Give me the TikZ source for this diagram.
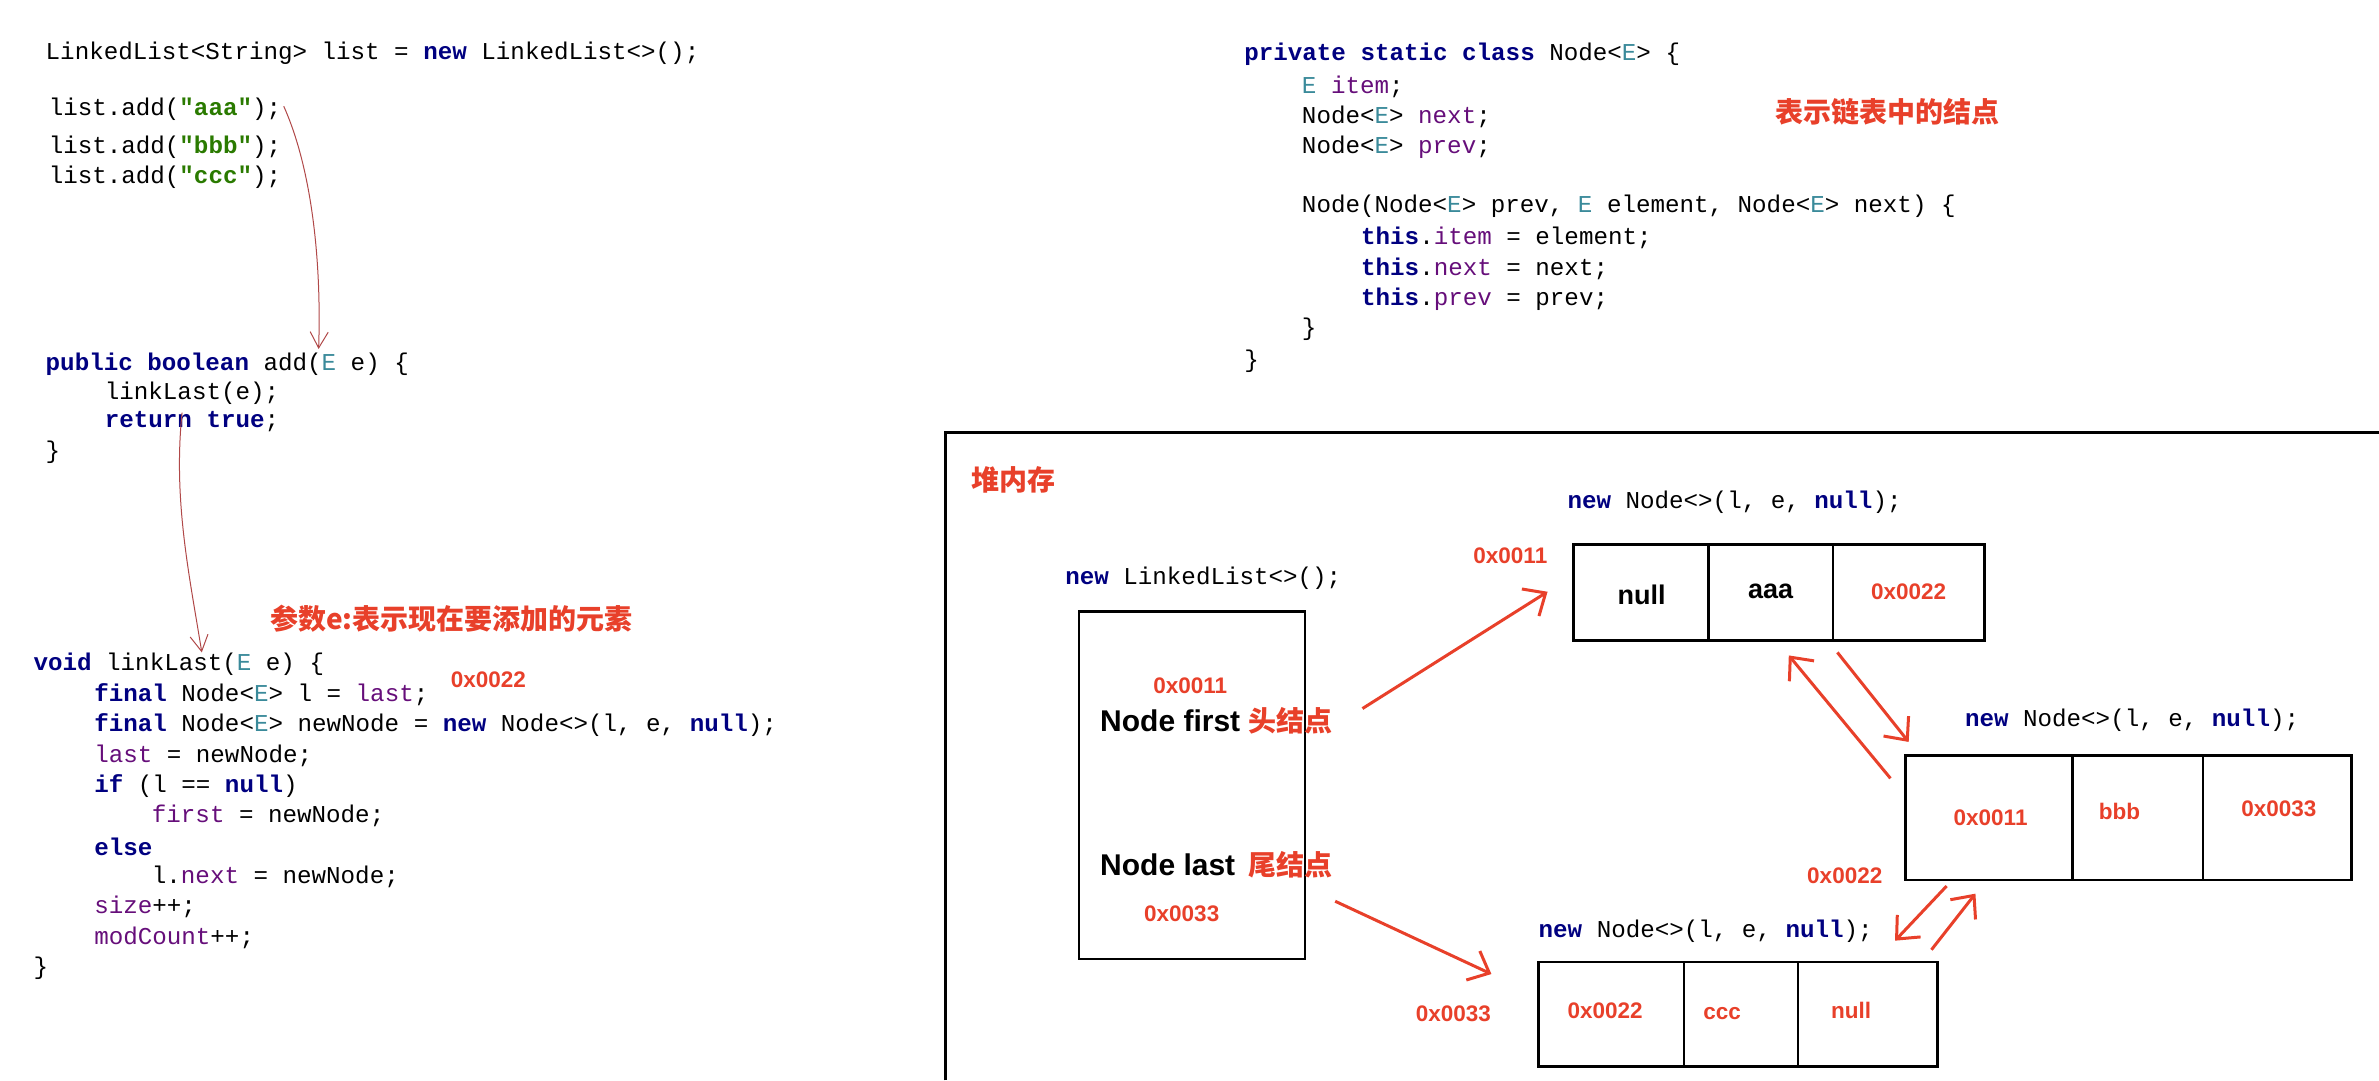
\documentclass[tikz,border=0pt]{standalone}
\usepackage{fontspec}
\setmainfont{Liberation Sans}
\newfontfamily\codefont{Liberation Mono}
\newfontfamily\cjk{Noto Sans CJK SC}
\usetikzlibrary{arrows.meta}
\definecolor{kw}{HTML}{000080}
\definecolor{st}{HTML}{2A7A00}
\definecolor{ty}{HTML}{3A8A9A}
\definecolor{fl}{HTML}{660E7A}
\definecolor{rd}{HTML}{E8402A}
\definecolor{pen}{HTML}{B04848}
\newcommand{\K}[1]{\textcolor{kw}{\bfseries #1}}
\newcommand{\Sg}[1]{\textcolor{st}{\bfseries #1}}
\newcommand{\T}[1]{\textcolor{ty}{#1}}
\newcommand{\F}[1]{\textcolor{fl}{#1}}
\begin{document}
\begin{tikzpicture}[x=1.517pt,y=-1.517pt,
  code/.style={anchor=west,inner sep=0pt,font=\codefont\fontsize{24.2}{28}\selectfont},
  red/.style={anchor=west,inner sep=0pt,text=rd,font=\bfseries\fontsize{22.5}{26}\selectfont},
  cn/.style={anchor=west,inner sep=0pt,text=rd,font=\cjk\bfseries\fontsize{28}{32}\selectfont},
  blk/.style={anchor=west,inner sep=0pt,font=\bfseries\fontsize{30}{34}\selectfont},
  cell/.style={inner sep=0pt,font=\bfseries\fontsize{27}{30}\selectfont},
  rcell/.style={inner sep=0pt,text=rd,font=\bfseries\fontsize{22.5}{26}\selectfont},
  box/.style={draw,line width=2.5pt},
  div/.style={line width=2.5pt},
  rarr/.style={draw=rd,line width=3pt,-{Straight Barb[length=18pt,width=32pt,line width=3pt]}},
  pen/.style={draw=pen,line width=1pt,-{Straight Barb[length=16pt,width=18pt]}}]
\useasboundingbox (0,0) rectangle (1568,712);
% left code
\node[code] (c1) at (30,35) {LinkedList<String> list = \K{new} LinkedList<>();};
\node[code] (c2) at (32,72) {list.add(\Sg{"aaa"});};
\node[code] (c3) at (32,97) {list.add(\Sg{"bbb"});};
\node[code] (c4) at (32,117) {list.add(\Sg{"ccc"});};
\node[code] (a1) at (30,240) {\K{public boolean} add(\T{E} e) \{};
\node[code] (a2) at (69,259) {linkLast(e);};
\node[code] (a3) at (69,278) {\K{return true};};
\node[code] (a4) at (30,298) {\}};
\node[cn] (lbl1) at (178,408) {参数e:表示现在要添加的元素};
\node[code] (l1) at (22,438) {\K{void} linkLast(\T{E} e) \{};
\node[red] at (297,448) {0x0022};
\node[code] at (62,458) {\K{final} Node<\T{E}> l = \F{last};};
\node[code] at (62,478) {\K{final} Node<\T{E}> newNode = \K{new} Node<>(l, e, \K{null});};
\node[code] at (62,498) {\F{last} = newNode;};
\node[code] at (62,518) {\K{if} (l == \K{null})};
\node[code] at (100,538) {\F{first} = newNode;};
\node[code] at (62,558) {\K{else}};
\node[code] at (100,578) {l.\F{next} = newNode;};
\node[code] at (62,598) {\F{size}++;};
\node[code] at (62,618) {\F{modCount}++;};
\node[code] at (22,638) {\}};
% right code
\node[code] at (820,36) {\K{private static class} Node<\T{E}> \{};
\node[code] at (858,57) {\T{E} \F{item};};
\node[code] at (858,77) {Node<\T{E}> \F{next};};
\node[code] at (858,97) {Node<\T{E}> \F{prev};};
\node[code] at (858,136) {Node(Node<\T{E}> prev, \T{E} element, Node<\T{E}> next) \{};
\node[code] at (897,157) {\K{this}.\F{item} = element;};
\node[code] at (897,177) {\K{this}.\F{next} = next;};
\node[code] at (897,197) {\K{this}.\F{prev} = prev;};
\node[code] at (858,217) {\}};
\node[code] at (820,238) {\}};
\node[cn] at (1170,74) {表示链表中的结点};
% pen arrows
\coordinate (p1s) at (187,70);
\coordinate (p1e) at (210,230);
\coordinate (p2s) at (120,272);
\coordinate (p2e) at (133,430);
\draw[pen] (p1s) .. controls (205,110) and (212,170) .. (p1e);
\draw[pen] (p2s) .. controls (114,330) and (125,380) .. (p2e);
% heap frame
\draw[line width=3pt] (623,712) -- (623,285) -- (1568,285);
\node[cn] at (640,316) {堆内存};
\node[code] at (702,381) {\K{new} LinkedList<>();};
\coordinate (llA) at (711,403);
\coordinate (llB) at (860,632);
\draw[box] (llA) rectangle (llB);
\node[red] at (760,452) {0x0011};
\node[blk] (nf) at (725,475) {Node first};
\node[cn] at (823,475) {头结点};
\node[blk] (nl) at (725,570) {Node last};
\node[cn] at (823,570) {尾结点};
\node[red] at (754,602) {0x0033};
% node 1
\node[code] at (1033,331) {\K{new} Node<>(l, e, \K{null});};
\node[red] at (971,366) {0x0011};
\coordinate (n1A) at (1037,359);
\coordinate (n1B) at (1308,422);
\draw[box] (n1A) rectangle (n1B);
\draw[div] (1126,359) -- (1126,422) (1208,359) -- (1208,422);
\node[cell] at (1082,392) {null};
\node[cell] at (1167,390) {aaa};
\node[rcell] at (1258,390) {0x0022};
% node 2
\node[code] at (1295,475) {\K{new} Node<>(l, e, \K{null});};
\coordinate (n2A) at (1256,498);
\coordinate (n2B) at (1550,580);
\draw[box] (n2A) rectangle (n2B);
\draw[div] (1366,498) -- (1366,580) (1452,498) -- (1452,580);
\node[rcell] at (1312,539) {0x0011};
\node[rcell] at (1397,535) {bbb};
\node[rcell] at (1502,533) {0x0033};
\node[red] at (1191,577) {0x0022};
% node 3
\node[code] at (1014,614) {\K{new} Node<>(l, e, \K{null});};
\coordinate (n3A) at (1014,634);
\coordinate (n3B) at (1277,703);
\draw[box] (n3A) rectangle (n3B);
\draw[div] (1110,634) -- (1110,703) (1185,634) -- (1185,703);
\node[rcell] at (1058,666) {0x0022};
\node[rcell] at (1135,668) {ccc};
\node[rcell] at (1220,666) {null};
\node[red] at (933,668) {0x0033};
% red arrows
\coordinate (f1) at (898,467);
\coordinate (f2) at (1020,390);
\draw[rarr] (f1) -- (f2);
\coordinate (g1) at (880,594);
\coordinate (g2) at (983,642);
\draw[rarr] (g1) -- (g2);
\coordinate (h1) at (1211,430);
\coordinate (h2) at (1258,489);
\draw[rarr] (h1) -- (h2);
\coordinate (i1) at (1246,513);
\coordinate (i2) at (1179,432);
\draw[rarr] (i1) -- (i2);
\coordinate (j1) at (1283,584);
\coordinate (j2) at (1249,620);
\draw[rarr] (j1) -- (j2);
\coordinate (k1) at (1273,626);
\coordinate (k2) at (1302,589);
\draw[rarr] (k1) -- (k2);
\end{tikzpicture}
\end{document}
